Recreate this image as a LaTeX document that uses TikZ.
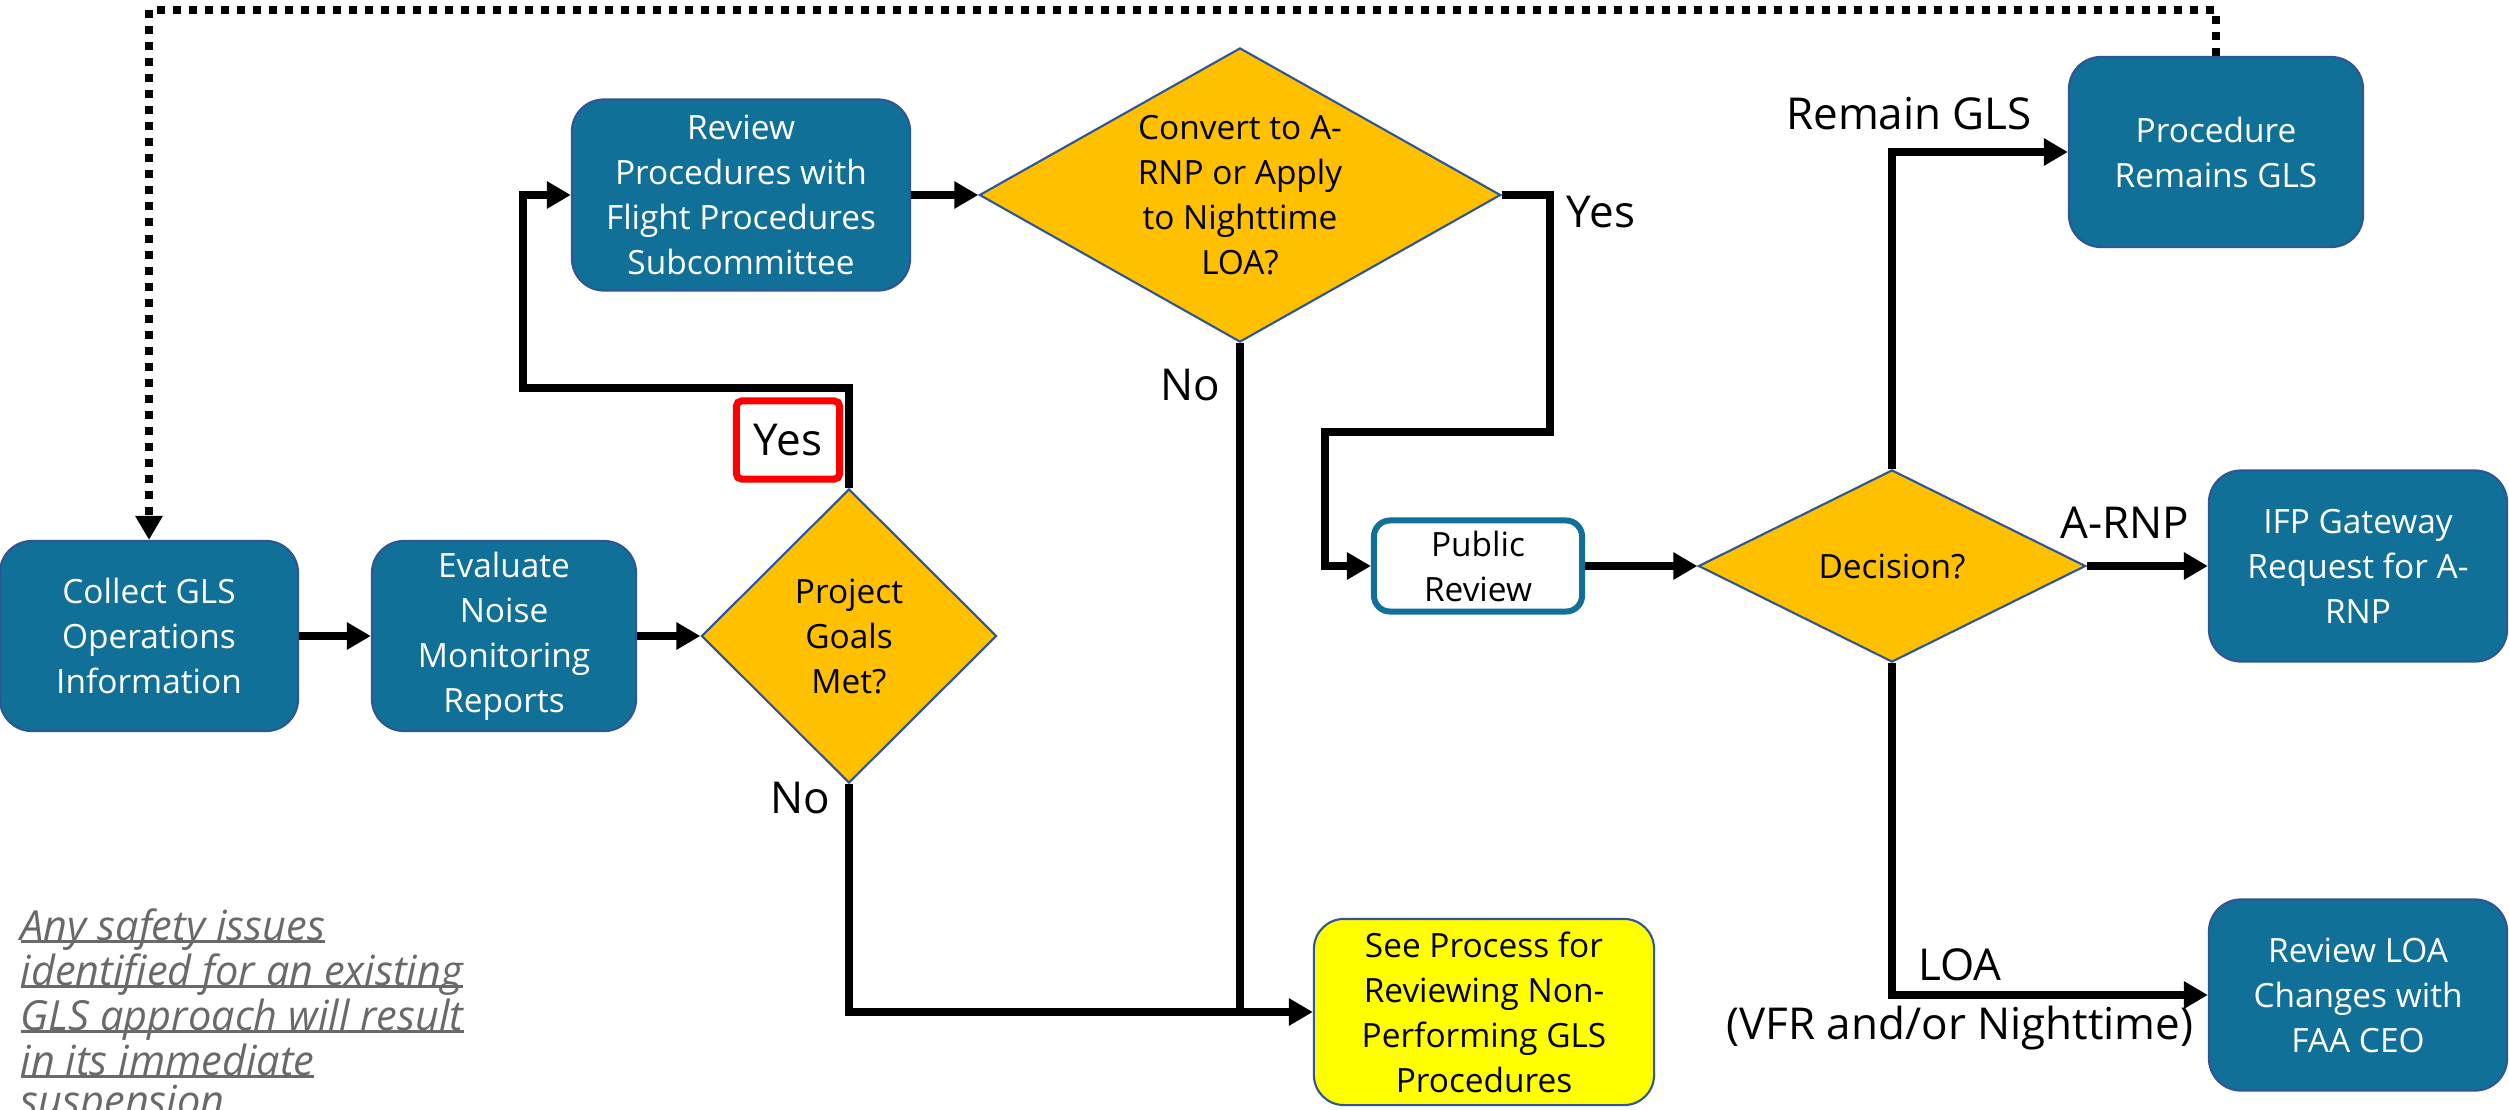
\documentclass[tikz,border=0pt]{standalone}
\usepackage{fontspec}
\setmainfont{Open Sans}
\usetikzlibrary{positioning,calc,shapes.geometric,arrows.meta}
\definecolor{FlowTeal}{RGB}{16,112,152}
\definecolor{EdgeBlue}{RGB}{47,85,151}
\definecolor{DecGold}{RGB}{255,192,0}
\definecolor{SeeYellow}{RGB}{255,255,0}
\definecolor{NoteGray}{RGB}{105,105,105}
\newsavebox{\notebox}
\newcommand{\noteul}[1]{\sbox{\notebox}{#1}\rlap{\rule[-0.6pt]{\wd\notebox}{0.8pt}}\usebox{\notebox}}
\tikzset{
  procbox/.style={rectangle,rounded corners=0.32cm,draw=EdgeBlue,line width=0.6pt,
    fill=FlowTeal,text=white,align=center,inner sep=2pt,
    font=\fontsize{9.5}{12.8}\selectfont},
  seebox/.style={procbox,fill=SeeYellow,text=black,rounded corners=0.3cm},
  pubbox/.style={procbox,fill=white,text=black,draw=FlowTeal,line width=0.06cm,
    rounded corners=0.16cm},
  decbox/.style={diamond,draw=EdgeBlue,line width=0.6pt,fill=DecGold,text=black,
    align=center,inner sep=0pt,font=\fontsize{9.5}{12.8}\selectfont},
  lbl/.style={inner sep=0pt,align=center,font=\fontsize{12.5}{16.8}\selectfont},
  trunk/.style={draw=black,line width=0.075cm},
  flow/.style={trunk,-{Triangle[length=0.24cm,width=0.26cm]}},
  loopback/.style={flow,dash pattern=on 0.08cm off 0.08cm},
}

\begin{document}
\begin{tikzpicture}[x=0.01cm,y=-0.01cm]
\useasboundingbox (0,0) rectangle (2509,1109);
% boxes
\node[procbox,minimum width=2.98cm,minimum height=1.9cm] (collect) at (149,636) {Collect GLS\\Operations\\Information};
\node[procbox,minimum width=2.64cm,minimum height=1.9cm] (evaluate) at (504,636) {Evaluate\\Noise\\Monitoring\\Reports};
\node[decbox,minimum width=2.95cm,minimum height=2.94cm] (goals) at (849,636) {Project\\Goals\\Met?};
\node[procbox,minimum width=3.38cm,minimum height=1.91cm] (review) at (741,195) {Review\\Procedures with\\Flight Procedures\\Subcommittee};
\node[decbox,aspect=1.78,minimum width=5.21cm,minimum height=2.94cm] (convert) at (1240,195) {Convert to A-\\RNP or Apply\\to Nighttime\\LOA?};
\node[pubbox,minimum width=2.08cm,minimum height=0.91cm] (public) at (1478,566) {Public\\Review};
\node[decbox,aspect=2,minimum width=3.87cm,minimum height=1.92cm] (decision) at (1892,566) {Decision?};
\node[procbox,minimum width=2.94cm,minimum height=1.9cm] (remains) at (2216,152) {Procedure\\Remains GLS};
\node[procbox,minimum width=2.98cm,minimum height=1.91cm] (ifp) at (2358,566) {IFP Gateway\\Request for A-\\RNP};
\node[procbox,minimum width=2.98cm,minimum height=1.91cm] (loareview) at (2358,995) {Review LOA\\Changes with\\FAA CEO};
\node[seebox,minimum width=3.4cm,minimum height=1.86cm] (seeproc) at (1484,1012) {See Process for\\Reviewing Non-\\Performing GLS\\Procedures};

% connectors
\foreach \a/\b in {collect/evaluate,evaluate/goals,review/convert,public/decision,decision/ifp}
  \draw[flow] (\a.east) -- (\b.west);
\coordinate (yesturn) at (523,388);
\draw[flow] (goals.north) |- (yesturn) |- (review.west);
\coordinate (yesjog) at (1550,432);
\coordinate (yesback) at (1325,432);
\draw[flow] (convert.east) -| (yesjog) -- (yesback) |- (public.west);
\coordinate (nojoin) at (convert.south |- seeproc.west);
\draw[trunk] (convert.south) -- (nojoin);
\draw[flow] (goals.south) |- (seeproc.west);
\draw[flow] (decision.north) |- (remains.west);
\draw[flow] (decision.south) |- (loareview.west);
\coordinate (looptop) at (149,10);
\draw[loopback] (remains.north) |- (looptop) -- (collect.north);

% labels
\node[lbl,draw=red,line width=0.07cm,rounded corners=0.05cm,minimum width=1.03cm,minimum height=0.78cm] (goalsyes) at (788,440) {Yes};
\node[lbl,anchor=base] (goalsno) at (800,813) {No};
\node[lbl,anchor=base] (convertno) at (1190,400) {No};
\node[lbl,anchor=base] (convertyes) at (1601,227) {Yes};
\node[lbl,anchor=base] (remainlbl) at (1909,129) {Remain GLS};
\node[lbl,anchor=base] (arnplbl) at (2125,538) {A-RNP};
\node[lbl,anchor=base] (loalbl) at (1960,980) {LOA};
\node[lbl,anchor=base] (vfrlbl) at (1960,1039) {(VFR and/or Nighttime)};

% note
\node[anchor=north west,align=left,inner sep=0pt,text=NoteGray,
  font=\itshape\fontsize{11.8}{11.4}\selectfont] (safety) at (20,908)
  {\noteul{Any safety issues}\\\noteul{identified for an existing}\\\noteul{GLS approach will result}\\\noteul{in its immediate}\\\noteul{suspension}};
\end{tikzpicture}
\end{document}
